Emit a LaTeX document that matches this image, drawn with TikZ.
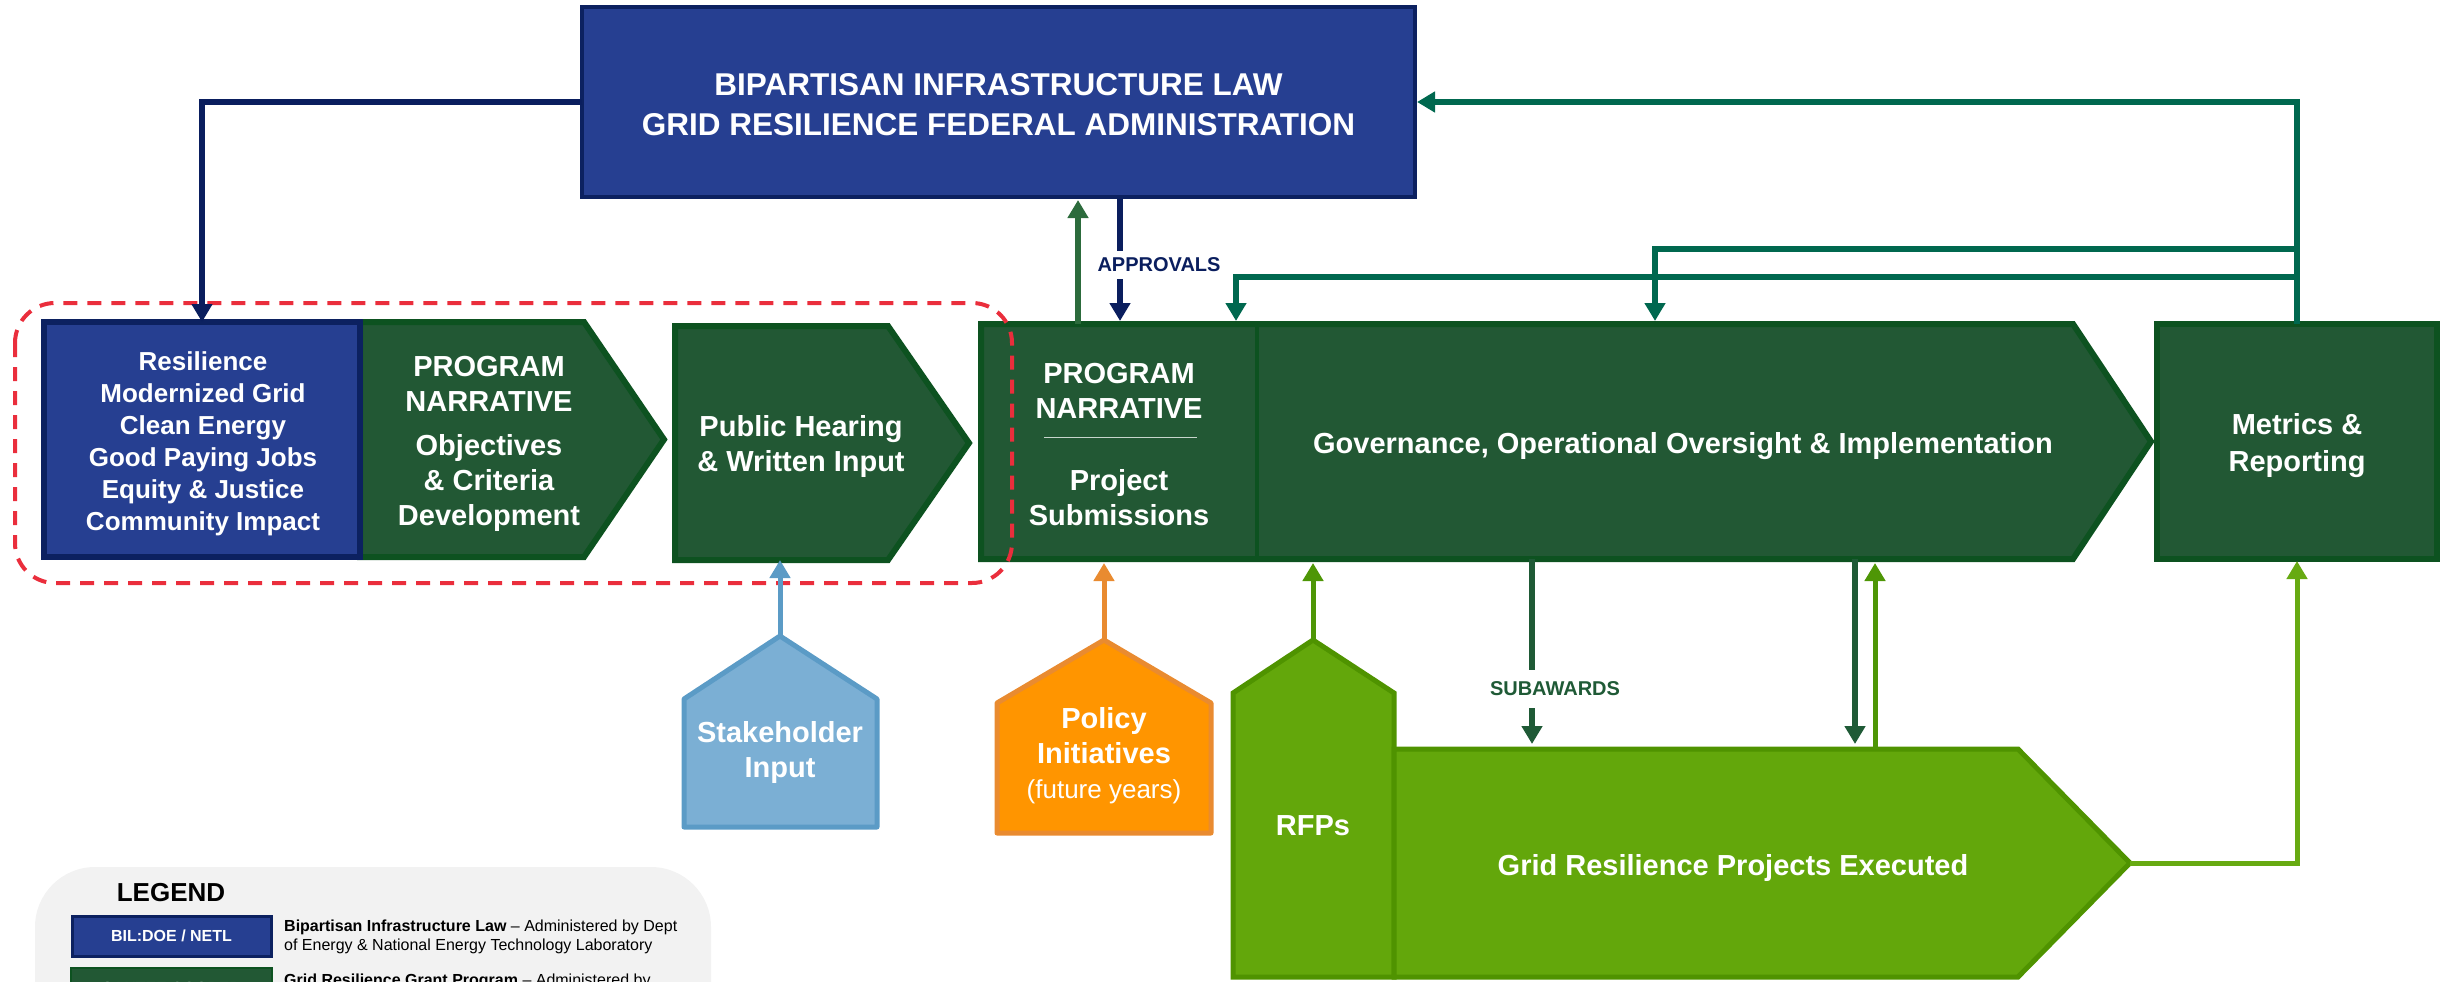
\documentclass[tikz,border=0pt]{standalone}
\usepackage{fontspec}
\setmainfont{Liberation Sans}
\usetikzlibrary{arrows.meta}
\definecolor{bfill}{HTML}{263F91}
\definecolor{bline}{HTML}{0C2160}
\definecolor{gfill}{HTML}{225834}
\definecolor{gline}{HTML}{0D5220}
\definecolor{lgfill}{HTML}{63A70B}
\definecolor{lgline}{HTML}{4F9300}
\definecolor{sfill}{HTML}{7BAFD4}
\definecolor{sline}{HTML}{5B9BC6}
\definecolor{ofill}{HTML}{FF9500}
\definecolor{oline}{HTML}{E98B30}
\definecolor{navyc}{HTML}{0A1E5E}
\definecolor{tealc}{HTML}{00684F}
\definecolor{upgreen}{HTML}{2C6B3C}
\definecolor{subc}{HTML}{1F5A36}
\definecolor{rfpc}{HTML}{4E9606}
\definecolor{execc}{HTML}{67AA12}
\definecolor{redd}{HTML}{EA2E3C}
\definecolor{legbg}{HTML}{F2F2F2}
\begin{document}
\begin{tikzpicture}[x=1pt,y=-1pt,
  region/.style={inner sep=0pt, outer sep=0pt},
  dkbox/.style={fill=gfill, draw=gline, line width=6pt, line join=miter},
  bluebox/.style={fill=bfill, draw=bline, line width=6pt},
  lgbox/.style={fill=lgfill, draw=lgline, line width=5pt, line join=miter},
  lbl/.style={text=white, font=\fontsize{29}{35}\selectfont\bfseries, align=center, inner sep=0pt},
  conn/.style={line width=6pt, -{Triangle[width=20pt,length=18pt]}},
  gaplbl/.style={fill=white, font=\fontsize{20}{24}\selectfont\bfseries, inner xsep=2pt}
]
\useasboundingbox (0,0) rectangle (2451,982);
\clip (0,0) rectangle (2451,982);

% ---------- top box
\node[bluebox, line width=4pt, region, minimum width=833pt, minimum height=190pt] (top) at (998.5,102) {};
\node[lbl, font=\fontsize{31.5}{40}\selectfont\bfseries] (toptxt) at (998.5,105)
  {BIPARTISAN INFRASTRUCTURE LAW\\GRID RESILIENCE FEDERAL ADMINISTRATION};

% ---------- chevron 1 + blue box
\draw[dkbox] (360,322) -- (584,322) -- (664,439.5) -- (584,557) -- (360,557) -- cycle;
\node[region, minimum width=304pt, minimum height=235pt] (obj) at (512,439.5) {};
\node[bluebox, region, minimum width=316pt, minimum height=235pt] (res) at (202,439.5) {};
\node[lbl, font=\fontsize{26}{32}\selectfont\bfseries] (restxt) at (203,444)
  {Resilience\\Modernized Grid\\Clean Energy\\Good Paying Jobs\\Equity \& Justice\\Community Impact};
\node[lbl] (objtxt) at (489,444) {PROGRAM\\NARRATIVE\\[9pt]Objectives\\\& Criteria\\Development};

% ---------- chevron 2
\draw[dkbox] (675,326) -- (888,326) -- (969,443) -- (888,560) -- (675,560) -- cycle;
\node[region, minimum width=294pt, minimum height=234pt] (pub) at (822,443) {};
\node[lbl] (pubtxt) at (801,446) {Public Hearing\\\& Written Input};

% ---------- submissions + governance
\draw[dkbox] (981,324) -- (2073,324) -- (2151,441.5) -- (2073,559) -- (981,559) -- cycle;
\node[region, minimum width=276pt, minimum height=235pt] (sub) at (1119,441.5) {};
\node[region, minimum width=894pt, minimum height=235pt] (gov) at (1704,441.5) {};
\draw[gline, line width=4pt] (sub.north east) -- (sub.south east);
\node[lbl] (subt1) at (1119,391) {PROGRAM\\NARRATIVE};
\draw[white!75!gfill, line width=1pt] (1044,437) -- (1197,437);
\node[lbl] (subt2) at (1119,498) {Project\\Submissions};
\node[lbl] (govt) at (1683,446) {Governance, Operational Oversight \& Implementation};

% ---------- metrics
\node[dkbox, region, minimum width=280pt, minimum height=235pt] (met) at (2297,441.5) {};
\node[lbl, font=\fontsize{29}{37}\selectfont\bfseries] (mett) at (2297,446) {Metrics \&\\Reporting};

% ---------- stakeholder / policy
\draw[fill=sfill, draw=sline, line width=5pt, line join=round]
  (684,827) -- (684,699) -- (780,636) -- (877,699) -- (877,827) -- cycle;
\coordinate (stkapex) at (780,636);
\node[lbl] (stkt) at (780,752) {Stakeholder\\Input};
\draw[fill=ofill, draw=oline, line width=5pt, line join=round]
  (997,833) -- (997,703) -- (1104,640) -- (1211,703) -- (1211,833) -- cycle;
\coordinate (polapex) at (1104,640);
\node[lbl] (polt) at (1104,756) {Policy\\Initiatives\\\fontsize{26}{34}\selectfont\mdseries (future years)};

% ---------- RFPs + executed
\draw[lgbox] (1233,977) -- (1233,693) -- (1313,640) -- (1394,693) -- (1394,977) -- cycle;
\coordinate (rfpapex) at (1313,640);
\draw[lgbox] (1394,749) -- (2018,749) -- (2130,863) -- (2018,977) -- (1394,977) -- cycle;
\node[region, minimum width=736pt, minimum height=228pt] (exe) at (1762,863) {};
\node[lbl] (rfpt) at (1313,826) {RFPs};
\node[lbl] (exet) at (1733,868) {Grid Resilience Projects Executed};

% ---------- dashed grouping
\draw[redd, line width=4pt, dash pattern=on 14pt off 10pt, rounded corners=40pt]
  (15,303) rectangle (1012,583);

% ---------- connectors
\coordinate (xa) at (1078,0);
\coordinate (xb) at (1120,0);
\coordinate (t2) at (1655,249);
\coordinate (t3) at (1236,277);
\coordinate (s1) at (1532,0);
\coordinate (s2) at (1855,0);
\coordinate (s3) at (1875,0);

\draw[conn, navyc] (top.west) -| (res.north);
\draw[conn, upgreen, shorten >=3pt] (xa |- sub.north) -- (xa |- top.south);
\draw[conn, navyc, shorten >=3pt, shorten <=2pt] (xb |- top.south) -- (xb |- sub.north);
\node[gaplbl, text=navyc, inner ysep=7pt] (appr) at (1159,265) {APPROVALS};

\draw[conn, tealc, shorten >=2pt] (met.north) |- (top.east);
\draw[conn, tealc, shorten >=3pt] (met.north |- t2) -| (t2 |- gov.north);
\draw[conn, tealc, shorten >=3pt] (met.north |- t3) -| (t3 |- sub.north);

\draw[conn, subc, shorten >=5pt] (s1 |- gov.south) -- (s1 |- exe.north);
\node[gaplbl, text=subc, inner ysep=12pt] (subl) at (1555,689) {SUBAWARDS};
\draw[conn, subc, shorten >=5pt] (s2 |- gov.south) -- (s2 |- exe.north);
\draw[conn, rfpc, line width=5pt, shorten >=4pt] (s3 |- exe.north) -- (s3 |- gov.south);
\draw[conn, rfpc, line width=5pt, shorten >=4pt] (rfpapex) -- (rfpapex |- gov.south);
\draw[conn, execc, line width=5pt, shorten >=2pt] (exe.east) -| (met.south);
\draw[conn, sline, line width=5pt] (stkapex) -- (stkapex |- pub.south);
\draw[conn, oline, line width=5pt, shorten >=4pt] (polapex) -- (polapex |- sub.south);

% ---------- legend
\fill[legbg, rounded corners=60pt] (35,867) rectangle (711,1100);
\node[font=\fontsize{26}{30}\selectfont\bfseries, inner sep=0pt] (legt) at (171,893) {LEGEND};
\node[fill=bfill, draw=bline, line width=3pt, minimum width=199pt, minimum height=40pt, inner sep=0pt,
  text=white, font=\fontsize{16}{19}\selectfont\bfseries] (legb) at (171.5,936) {BIL:DOE / NETL};
\node[fill=gfill, draw=gline, line width=2pt, minimum width=201pt, minimum height=40pt, inner sep=0pt,
  text=white, font=\fontsize{16}{19}\selectfont\bfseries] (legg) at (171.5,988) {SANTEE COOPER};
\node[anchor=west, align=left, font=\fontsize{16}{19}\selectfont, inner sep=0pt] (legbd) at (284,936.5)
  {\textbf{Bipartisan Infrastructure Law} \textendash{} Administered by Dept\\of Energy \& National Energy Technology Laboratory};
\node[anchor=base west, font=\fontsize{16}{19}\selectfont, inner sep=0pt] (leggd) at (284,985)
  {\textbf{Grid Resilience Grant Program} \textendash{} Administered by};
\end{tikzpicture}
\end{document}
